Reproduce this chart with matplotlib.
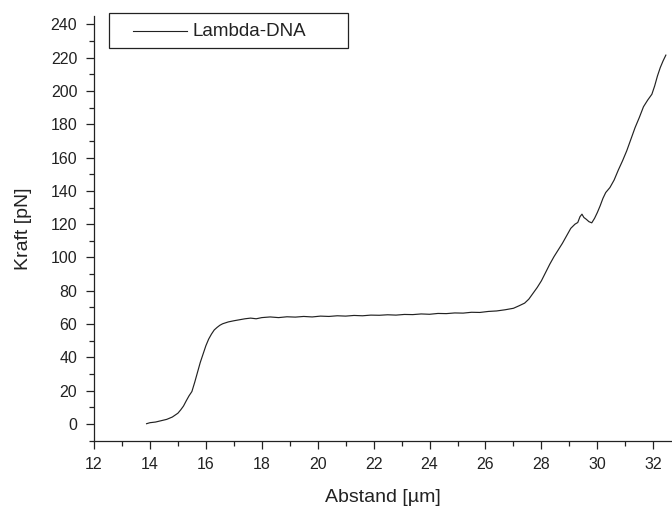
import matplotlib
matplotlib.use("Agg")
import matplotlib.pyplot as plt
from matplotlib.patches import Rectangle
from matplotlib.lines import Line2D
from matplotlib.ticker import MultipleLocator

plt.rcParams["font.family"] = ["Liberation Sans", "DejaVu Sans"]

# Kraft-Abstand-Kurve
abstand = [13.88, 14.0, 14.2, 14.4, 14.6, 14.8, 15.0, 15.1, 15.2, 15.3, 15.4,
           15.5, 15.6, 15.7, 15.8, 15.9, 16.0, 16.1, 16.2, 16.3, 16.4, 16.5,
           16.6, 16.8, 17.0, 17.2, 17.4, 17.6, 17.8, 18.0, 18.3, 18.6, 18.9,
           19.2, 19.5, 19.8, 20.1, 20.4, 20.7, 21.0, 21.3, 21.6, 21.9, 22.2,
           22.5, 22.8, 23.1, 23.4, 23.7, 24.0, 24.3, 24.6, 24.9, 25.2, 25.5,
           25.8, 26.1, 26.4, 26.7, 27.0, 27.2, 27.4, 27.55, 27.7, 27.85, 28.0,
           28.15, 28.3, 28.45, 28.6, 28.75, 28.9, 29.05, 29.2, 29.3, 29.38,
           29.45, 29.52, 29.6, 29.7, 29.8, 29.9, 30.0, 30.1, 30.2, 30.3,
           30.45, 30.6, 30.75, 30.9, 31.05, 31.2, 31.35, 31.5, 31.65, 31.8,
           31.95, 32.05, 32.15, 32.25, 32.35, 32.45]
kraft = [0.2, 0.8, 1.2, 2.0, 2.8, 4.2, 6.5, 8.5, 10.8, 14.0, 17.0,
         19.5, 25.0, 31.0, 37.0, 42.0, 47.0, 51.0, 54.0, 56.5, 58.0, 59.3,
         60.2, 61.3, 62.0, 62.6, 63.2, 63.6, 63.2, 63.9, 64.3, 63.9, 64.4,
         64.2, 64.6, 64.3, 64.8, 64.6, 65.0, 64.8, 65.2, 65.0, 65.4, 65.3,
         65.6, 65.4, 65.8, 65.7, 66.1, 65.9, 66.4, 66.3, 66.7, 66.6, 67.1,
         67.0, 67.6, 67.9, 68.6, 69.5, 71.0, 72.6, 75.0, 78.5, 82.0, 86.0,
         91.0, 96.0, 100.5, 104.5, 108.5, 113.0, 117.5, 120.0, 121.0, 124.5,
         126.0, 124.0, 123.0, 121.5, 120.8, 123.5, 127.0, 131.0, 135.5, 139.0,
         142.0, 146.5, 152.5, 158.0, 164.0, 171.0, 178.0, 184.0, 190.5, 194.5,
         198.0, 203.0, 209.0, 214.0, 218.0, 221.5]
label = "Lambda-DNA"

ink = "#222222"

fig = plt.figure(figsize=(6.72, 5.09), dpi=100)
ax = fig.add_axes([0.1399, 0.1342, 0.8601, 0.8344])

ax.plot(abstand, kraft, color=ink, lw=0.85)

ax.set_xlim(12, 32.67)
ax.set_ylim(-10, 245)
ax.xaxis.set_major_locator(MultipleLocator(2))
ax.xaxis.set_minor_locator(MultipleLocator(1))
ax.yaxis.set_major_locator(MultipleLocator(20))
ax.yaxis.set_minor_locator(MultipleLocator(10))

for s in ["top", "right"]:
    ax.spines[s].set_visible(False)
for s in ["left", "bottom"]:
    ax.spines[s].set_linewidth(0.9)
    ax.spines[s].set_color(ink)

ax.tick_params(which="major", direction="out", length=6, width=0.9,
               labelsize=11.5, colors=ink, pad=6)
ax.tick_params(which="minor", direction="out", length=3.3, width=0.9, colors=ink)

ax.set_xlabel("Abstand [µm]", fontsize=14, color=ink, labelpad=12)
ax.set_ylabel("Kraft [pN]", fontsize=14, color=ink, labelpad=13.5)

# Legendenkasten wie im Original
W, H = 672, 509
fig.patches.append(Rectangle((109 / W, 1 - 48 / H), (348 - 109) / W, 35 / H,
                             transform=fig.transFigure, fill=False,
                             edgecolor=ink, lw=0.9))
fig.lines.append(Line2D([133 / W, 187 / W], [1 - 31 / H, 1 - 31 / H],
                        transform=fig.transFigure, color=ink, lw=0.8))
fig.text(193 / W, 1 - 31 / H, label, fontsize=13.5, color=ink,
         ha="left", va="center")

fig.savefig("out.png", dpi=100)
